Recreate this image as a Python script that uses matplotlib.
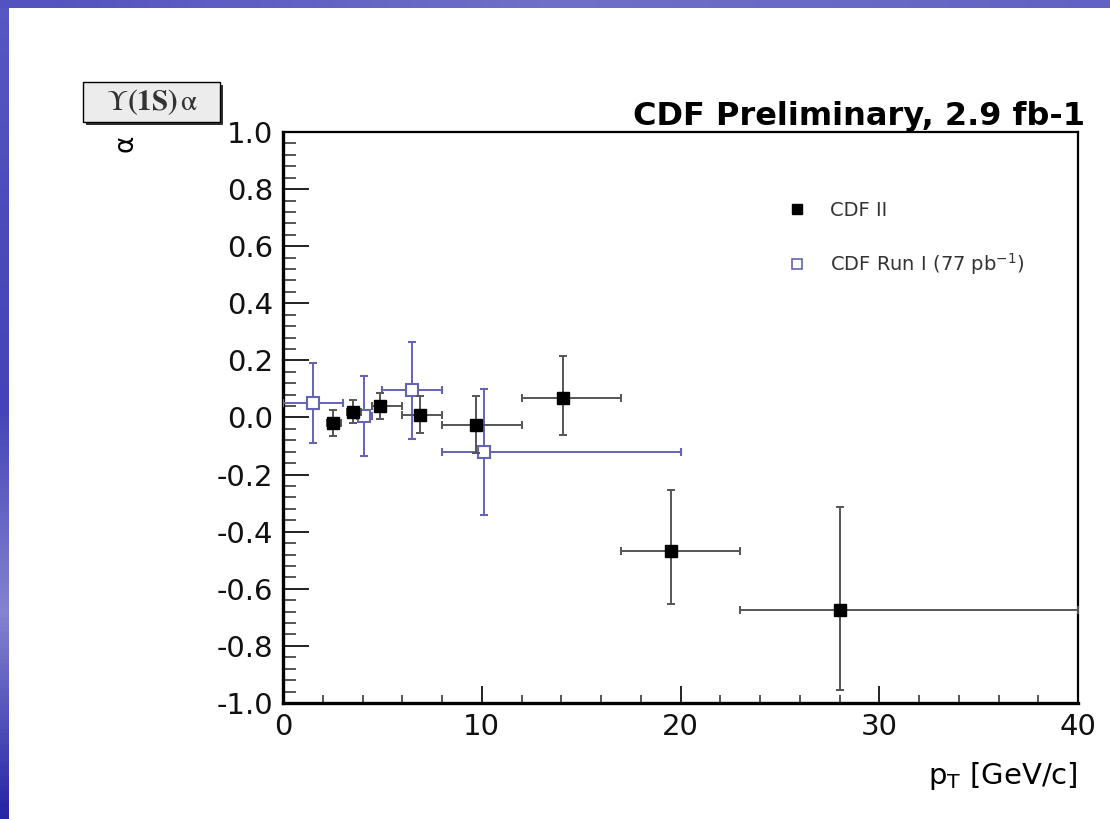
import numpy as np
import matplotlib.pyplot as plt
from matplotlib.patches import Rectangle
from matplotlib.lines import Line2D
from matplotlib.ticker import MultipleLocator, FormatStrFormatter
from matplotlib.colors import LinearSegmentedColormap

# CDF II measurement (black squares)
cdf2_pt = [2.5, 3.5, 4.9, 6.9, 9.7, 14.1, 19.5, 28.0]
cdf2_pt_lo = [2.2, 3.2, 4.5, 6.0, 8.0, 12.0, 17.0, 23.0]
cdf2_pt_hi = [2.9, 3.9, 6.0, 8.0, 12.0, 17.0, 23.0, 40.0]
cdf2_alpha = [-0.02, 0.02, 0.04, 0.01, -0.025, 0.07, -0.467, -0.675]
cdf2_err_dn = [0.045, 0.04, 0.045, 0.065, 0.10, 0.13, 0.186, 0.28]
cdf2_err_up = [0.045, 0.04, 0.045, 0.065, 0.10, 0.145, 0.214, 0.36]

# CDF Run I measurement (open blue squares)
run1_pt = [1.5, 4.1, 6.5, 10.1]
run1_pt_lo = [0.0, 3.7, 5.0, 8.0]
run1_pt_hi = [3.0, 4.5, 8.0, 20.0]
run1_alpha = [0.05, 0.005, 0.095, -0.12]
run1_alpha_err = [0.14, 0.14, 0.17, 0.22]

legend_labels = ['CDF II', r'CDF Run I (77 pb$^{-1}$)']

plt.rcParams['axes.unicode_minus'] = False
plt.rcParams['mathtext.fontset'] = 'dejavusans'

W, H = 1110, 819
blue = '#6464b4'

fig = plt.figure(figsize=(W / 100, H / 100), dpi=100)

# slide background bands
band_cmap = LinearSegmentedColormap.from_list(
    'slide', ['#2424a6', '#8484d0', '#4444b8', '#4c4cbc', '#5858c4'])
lax = fig.add_axes([0, 0, 9 / W, 1])
lax.imshow(np.linspace(0, 1, 200).reshape(-1, 1), aspect='auto', cmap=band_cmap,
           origin='lower', extent=[0, 1, 0, 1])
lax.axis('off')
tax = fig.add_axes([0, 1 - 8 / H, 1, 8 / H])
tax.imshow(np.linspace(0, 1, 200).reshape(1, -1), aspect='auto',
           cmap=LinearSegmentedColormap.from_list('top', ['#5252c0', '#7070c8', '#6262c4']),
           extent=[0, 1, 0, 1])
tax.axis('off')

ax = fig.add_axes([283 / W, 1 - 703 / H, (1078 - 283) / W, (703 - 132) / H])

def asym(pt, lo, hi):
    pt = np.array(pt)
    return [pt - np.array(lo), np.array(hi) - pt]

ax.errorbar(run1_pt, run1_alpha, xerr=asym(run1_pt, run1_pt_lo, run1_pt_hi),
            yerr=run1_alpha_err, fmt='s', ms=9, mfc='white', mec=blue, mew=1.5,
            ecolor=blue, elinewidth=1.4, capsize=3, capthick=1.4, zorder=3)
ax.errorbar(cdf2_pt, cdf2_alpha, xerr=asym(cdf2_pt, cdf2_pt_lo, cdf2_pt_hi),
            yerr=[cdf2_err_dn, cdf2_err_up], fmt='s', ms=8.5, color='black',
            ecolor='#555555', elinewidth=1.4, capsize=3, capthick=1.4, zorder=4)

ax.set_xlim(0, 40)
ax.set_ylim(-1, 1)
ax.xaxis.set_major_locator(MultipleLocator(10))
ax.xaxis.set_minor_locator(MultipleLocator(2))
ax.yaxis.set_major_locator(MultipleLocator(0.2))
ax.yaxis.set_minor_locator(MultipleLocator(0.04))
ax.yaxis.set_major_formatter(FormatStrFormatter('%.1f'))

ax.tick_params(which='both', direction='in', top=False, right=False,
               labelsize=21, color='#222222', labelcolor='#111111')
ax.tick_params(axis='y', which='major', length=19, width=1.4, pad=7)
ax.tick_params(axis='y', which='minor', length=9.5, width=1.4, color='#555555')
ax.tick_params(axis='x', which='major', length=12, width=1.4, pad=7)
ax.tick_params(axis='x', which='minor', length=6, width=1.4, color='#555555')
for s in ['left', 'bottom']:
    ax.spines[s].set_linewidth(2.4)
for s in ['top', 'right']:
    ax.spines[s].set_linewidth(1.6)

# title and axis labels
fig.text(1085 / W, 1 - 125 / H, 'CDF Preliminary, 2.9 fb-1', ha='right',
         va='baseline', fontsize=23, fontweight='bold')
fig.text(1078 / W, 1 - 784 / H, r'p$_{\rm T}$ [GeV/c]', ha='right',
         va='baseline', fontsize=21)
fig.text(125 / W, 1 - 143 / H, 'α', rotation=90, ha='center',
         va='center', fontsize=19)

# ROOT-style title box
fig.patches.append(Rectangle((86 / W, 1 - 125 / H), 137 / W, 40 / H,
                             transform=fig.transFigure, facecolor='#333333',
                             edgecolor='none'))
fig.patches.append(Rectangle((83 / W, 1 - 122 / H), 137 / W, 40 / H,
                             transform=fig.transFigure, facecolor='#ececec',
                             edgecolor='black', linewidth=1))
fig.text(152 / W, 1 - 102 / H, r'$\mathrm{\Upsilon}\mathbf{(1S)}\,\mathrm{\alpha}$',
         math_fontfamily='stix', ha='center', va='center', fontsize=21,
         color='#333333')

handles = [Line2D([], [], ls='none', marker='s', color='black', ms=7),
           Line2D([], [], ls='none', marker='s', mfc='white', mec=blue, ms=6.5, mew=1.2)]
fig.legend(handles=handles, labels=legend_labels, loc='upper left',
           bbox_to_anchor=(787 / W, 1 - 201 / H), frameon=False, fontsize=14,
           handlelength=1, handletextpad=1.2, labelspacing=1.6, borderpad=0,
           borderaxespad=0, labelcolor='#333333')

fig.savefig('out.png', dpi=100)
